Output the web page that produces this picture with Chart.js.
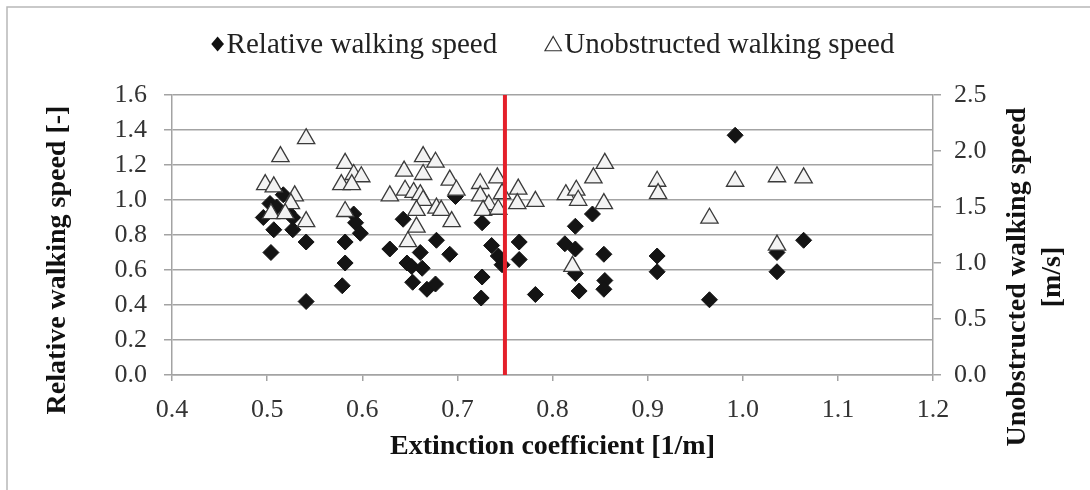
<!DOCTYPE html>
<html>
<head>
<meta charset="utf-8">
<script src="https://cdn.jsdelivr.net/npm/chart.js@4.4.0/dist/chart.umd.min.js"></script>
<style>
  html, body { margin: 0; padding: 0; background: #fff; }
</style>
</head>
<body>
<canvas id="speedChart" width="1090" height="490"></canvas>
<script>
// Relative walking speed [-] against extinction coefficient [1/m]
const relX = [0.517, 0.503, 0.510, 0.522, 0.496, 0.527, 0.507, 0.527, 0.504, 0.541,
              0.541, 0.582, 0.582, 0.579, 0.591, 0.593, 0.598, 0.629, 0.643, 0.647,
              0.652, 0.653, 0.661, 0.663, 0.668, 0.677, 0.678, 0.692, 0.698, 0.726,
              0.726, 0.725, 0.736, 0.743, 0.747, 0.765, 0.765, 0.782, 0.813, 0.824,
              0.824, 0.842, 0.854, 0.824, 0.828, 0.855, 0.854, 0.910, 0.910, 0.965,
              0.992, 1.036, 1.036, 1.064];
const relSpeed = [1.03, 0.98, 0.96, 0.93, 0.90, 0.90, 0.83, 0.83, 0.70, 0.76,
                  0.42, 0.76, 0.64, 0.51, 0.92, 0.87, 0.81, 0.72, 0.89, 0.64,
                  0.62, 0.53, 0.70, 0.61, 0.49, 0.52, 0.77, 0.69, 1.02, 0.87,
                  0.56, 0.44, 0.74, 0.68, 0.63, 0.76, 0.66, 0.46, 0.75, 0.72,
                  0.85, 0.92, 0.69, 0.58, 0.48, 0.54, 0.49, 0.68, 0.59, 0.43,
                  1.37, 0.70, 0.59, 0.77];

// Unobstructed walking speed [m/s] (right axis)
const freeX = [0.498, 0.507, 0.514, 0.529, 0.525, 0.504, 0.519, 0.541, 0.541, 0.582,
               0.591, 0.599, 0.578, 0.589, 0.582, 0.629, 0.644, 0.664, 0.677, 0.664,
               0.645, 0.654, 0.661, 0.664, 0.678, 0.683, 0.657, 0.657, 0.648, 0.692,
               0.699, 0.694, 0.724, 0.742, 0.724, 0.733, 0.727, 0.743, 0.747, 0.764,
               0.763, 0.782, 0.814, 0.825, 0.827, 0.843, 0.855, 0.854, 0.821, 0.910,
               0.911, 0.965, 0.992, 1.036, 1.036, 1.064];
const freeSpeed = [1.70, 1.68, 1.95, 1.60, 1.53, 1.44, 1.44, 1.37, 2.11, 1.89,
                   1.79, 1.77, 1.70, 1.70, 1.46, 1.60, 1.82, 1.95, 1.90, 1.79,
                   1.65, 1.63, 1.61, 1.56, 1.49, 1.47, 1.47, 1.32, 1.19, 1.74,
                   1.65, 1.37, 1.71, 1.76, 1.60, 1.52, 1.47, 1.48, 1.62, 1.66,
                   1.53, 1.55, 1.61, 1.65, 1.56, 1.76, 1.89, 1.53, 0.97, 1.73,
                   1.62, 1.40, 1.73, 1.77, 1.16, 1.76];

// vertical reference line
const thresholdX = 0.75;

const seriesNames = ["Relative walking speed", "Unobstructed walking speed"];

const serif = "'Liberation Serif', 'Times New Roman', serif";
const axisGray = "#a3a3a3";
const tickFont = { family: serif, size: 26 };
const titleFont = { family: serif, size: 28, weight: "bold" };

Chart.defaults.font.family = serif;

function toPoints(xs, ys) {
    return xs.map((x, i) => ({ x: x, y: ys[i] }));
}

function diamond(ctx, x, y, r) {
    ctx.beginPath();
    ctx.moveTo(x, y - r);
    ctx.lineTo(x + r * 0.85, y);
    ctx.lineTo(x, y + r);
    ctx.lineTo(x - r * 0.85, y);
    ctx.closePath();
}

function triangle(ctx, x, y, r) {
    ctx.beginPath();
    ctx.moveTo(x, y - r);
    ctx.lineTo(x + r * 0.866, y + r * 0.5);
    ctx.lineTo(x - r * 0.866, y + r * 0.5);
    ctx.closePath();
}

// frame, legend row and the two vertical axis titles
const decorations = {
    id: "decorations",
    beforeDraw(chart) {
        const ctx = chart.ctx;
        ctx.save();
        ctx.fillStyle = "#fff";
        ctx.fillRect(0, 0, chart.width, chart.height);
        ctx.strokeStyle = "#b8b8b8";
        ctx.lineWidth = 1.5;
        ctx.strokeRect(7, 7, chart.width + 20, chart.height + 20);
        ctx.restore();
    },
    afterDraw(chart) {
        const ctx = chart.ctx;
        const area = chart.chartArea;
        ctx.save();

        // legend
        ctx.font = "29px " + serif;
        ctx.textBaseline = "middle";
        ctx.textAlign = "left";
        const w1 = ctx.measureText(seriesNames[0]).width;
        const w2 = ctx.measureText(seriesNames[1]).width;
        const total = 16 + w1 + 48 + 19 + w2;
        let lx = (area.left + area.right) / 2 - total / 2;
        const ly = 44;
        ctx.fillStyle = "#111";
        diamond(ctx, lx + 7, ly, 7.5);
        ctx.fill();
        ctx.fillStyle = "#222";
        ctx.fillText(seriesNames[0], lx + 16, ly + 1);
        lx += 16 + w1 + 48;
        ctx.fillStyle = "#fff";
        ctx.strokeStyle = "#333";
        ctx.lineWidth = 1.2;
        triangle(ctx, lx + 8, ly + 2, 9.5);
        ctx.fill();
        ctx.stroke();
        ctx.fillStyle = "#222";
        ctx.fillText(seriesNames[1], lx + 19, ly + 1);

        // y axis titles, reading upwards
        ctx.font = "bold 28px " + serif;
        ctx.fillStyle = "#111";
        ctx.textAlign = "center";
        ctx.translate(58, 260);
        ctx.rotate(-Math.PI / 2);
        ctx.fillText("Relative walking speed [-]", 0, 0);
        ctx.setTransform(1, 0, 0, 1, 0, 0);
        ctx.translate(1018, 277);
        ctx.rotate(-Math.PI / 2);
        ctx.fillText("Unobstructed walking speed", 0, 0);
        ctx.fillText("[m/s]", 0, 35);
        ctx.restore();
    }
};

const ctx = document.getElementById("speedChart").getContext("2d");
new Chart(ctx, {
    type: "scatter",
    data: {
        datasets: [
            {
                label: "threshold",
                data: [{ x: thresholdX, y: 0 }, { x: thresholdX, y: 1.6 }],
                showLine: true,
                borderColor: "#e4202a",
                borderWidth: 4,
                pointRadius: 0,
                yAxisID: "y"
            },
            {
                label: seriesNames[1],
                data: toPoints(freeX, freeSpeed),
                pointStyle: "triangle",
                pointRadius: 10,
                backgroundColor: "#f3f3f3",
                borderColor: "#3a3a3a",
                borderWidth: 1.3,
                yAxisID: "y2"
            },
            {
                label: seriesNames[0],
                data: toPoints(relX, relSpeed),
                pointStyle: "rectRot",
                pointRadius: 8,
                backgroundColor: "#141414",
                borderColor: "#141414",
                borderWidth: 1,
                yAxisID: "y"
            }
        ]
    },
    options: {
        responsive: false,
        animation: false,
        events: [],
        layout: { padding: { top: 95, left: 0, right: 0, bottom: 0 } },
        plugins: {
            legend: { display: false },
            tooltip: { enabled: false }
        },
        scales: {
            x: {
                type: "linear",
                min: 0.4,
                max: 1.2,
                ticks: {
                    stepSize: 0.1,
                    autoSkip: false,
                    maxRotation: 0,
                    padding: 14,
                    font: tickFont,
                    color: "#333",
                    callback: v => v.toFixed(1)
                },
                grid: { drawOnChartArea: false, tickLength: 6, color: axisGray, lineWidth: 1.5 },
                border: { color: axisGray, width: 1.5 },
                title: {
                    display: true,
                    text: "Extinction coefficient [1/m]",
                    font: titleFont,
                    color: "#111",
                    padding: { top: 0, bottom: 26 }
                },
                afterFit(scale) { scale.height = 115; }
            },
            y: {
                position: "left",
                min: 0,
                max: 1.6,
                ticks: {
                    stepSize: 0.2,
                    padding: 17,
                    font: tickFont,
                    color: "#333",
                    callback: v => v.toFixed(1)
                },
                grid: { tickLength: 8, color: axisGray, lineWidth: 1.5 },
                border: { color: axisGray, width: 1.5 },
                afterFit(scale) { scale.width = 172; }
            },
            y2: {
                position: "right",
                min: 0,
                max: 2.5,
                ticks: {
                    stepSize: 0.5,
                    padding: 13,
                    font: tickFont,
                    color: "#333",
                    callback: v => v.toFixed(1)
                },
                grid: { drawOnChartArea: false, tickLength: 8, color: axisGray, lineWidth: 1.5 },
                border: { color: axisGray, width: 1.5 },
                afterFit(scale) { scale.width = 157; }
            }
        }
    },
    plugins: [decorations]
});
</script>
</body>
</html>
